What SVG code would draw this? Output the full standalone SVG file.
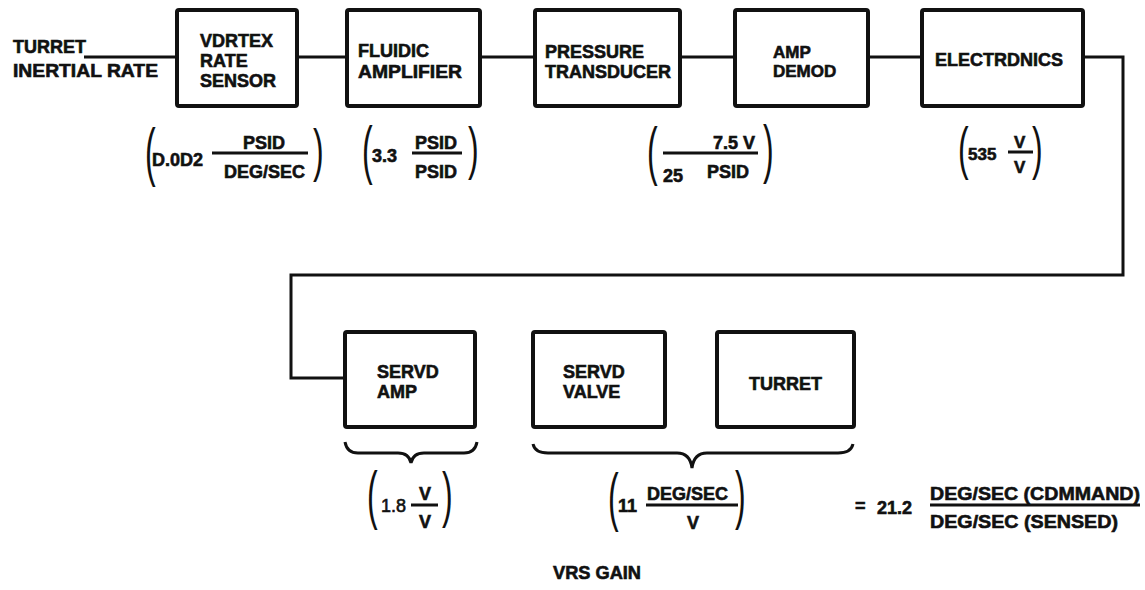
<svg xmlns="http://www.w3.org/2000/svg" width="1145" height="590" viewBox="0 0 1145 590">
<style>
.box{fill:none;stroke:#111;stroke-width:4}
.ln{fill:none;stroke:#111;stroke-width:3}
.t{font-family:"Liberation Sans",Arial,sans-serif;font-weight:bold;font-size:18px;fill:#111;stroke:#111;stroke-width:0.6}
.s{font-size:17px}
.par{font-family:"Liberation Sans",Arial,sans-serif;font-size:32px;fill:#111}
</style>
<rect width="1145" height="590" fill="#fff"/>
<g id="connectors">
<path class="ln" d="M84,57 H177"/>
<path class="ln" d="M297,57 H347"/>
<path class="ln" d="M480,57 H535"/>
<path class="ln" d="M680,57 H735"/>
<path class="ln" d="M868,57 H922"/>
<path class="ln" d="M1083,57 H1123 V275 H291 V378 H345"/>
</g>
<g id="input-label">
<text class="t" x="13" y="53">TURRET</text>
<text class="t" x="13" y="77" textLength="145" lengthAdjust="spacingAndGlyphs">INERTIAL RATE</text>
</g>
<g id="vortex">
<rect class="box" x="177" y="10" width="120" height="96" rx="2"/>
<text class="t" x="200" y="47">VDRTEX</text>
<text class="t" x="200" y="67">RATE</text>
<text class="t" x="200" y="87">SENSOR</text>
</g>
<g id="fluidic">
<rect class="box" x="347" y="10" width="133" height="96" rx="2"/>
<text class="t" x="358" y="57">FLUIDIC</text>
<text class="t" x="358" y="78" textLength="104" lengthAdjust="spacingAndGlyphs">AMPLIFIER</text>
</g>
<g id="pressure">
<rect class="box" x="535" y="10" width="145" height="96" rx="2"/>
<text class="t" x="545" y="58">PRESSURE</text>
<text class="t" x="545" y="78">TRANSDUCER</text>
</g>
<g id="ampdemod">
<rect class="box" x="735" y="10" width="133" height="96" rx="2"/>
<text class="t s" x="773" y="58">AMP</text>
<text class="t s" x="773" y="77">DEMOD</text>
</g>
<g id="electronics">
<rect class="box" x="922" y="10" width="161" height="96" rx="2"/>
<text class="t" x="935" y="66" textLength="128" lengthAdjust="spacingAndGlyphs">ELECTRDNICS</text>
</g>
<g id="servoamp">
<rect class="box" x="345" y="332" width="130" height="95" rx="2"/>
<text class="t" x="377" y="378">SERVD</text>
<text class="t" x="377" y="398">AMP</text>
</g>
<g id="servovalve">
<rect class="box" x="533" y="332" width="132" height="95" rx="2"/>
<text class="t" x="563" y="378">SERVD</text>
<text class="t" x="563" y="398">VALVE</text>
</g>
<g id="turret">
<rect class="box" x="717" y="332" width="137" height="95" rx="2"/>
<text class="t" x="749" y="390">TURRET</text>
</g>
<g id="gain-vortex">
<text class="par" transform="translate(145,174) scale(1,2)">(</text>
<text class="t" x="152" y="166">D.0D2</text>
<path class="ln" d="M212,153 H308"/>
<text class="t" x="243" y="149">PSID</text>
<text class="t" x="224" y="178">DEG/SEC</text>
<text class="par" transform="translate(313,170) scale(1,1.8)">)</text>
</g>
<g id="gain-fluidic">
<text class="par" transform="translate(362,172) scale(1,2)">(</text>
<text class="t" x="372" y="162">3.3</text>
<path class="ln" d="M412,153 H462"/>
<text class="t" x="415" y="149">PSID</text>
<text class="t" x="415" y="178">PSID</text>
<text class="par" transform="translate(468,168) scale(1,1.8)">)</text>
</g>
<g id="gain-pressure">
<text class="par" transform="translate(647,173) scale(1,2)">(</text>
<path class="ln" d="M663,153 H758"/>
<text class="t" x="713" y="149">7.5 V</text>
<text class="t" x="663" y="182">25</text>
<text class="t" x="707" y="178">PSID</text>
<text class="par" transform="translate(763,171) scale(1,2)">)</text>
</g>
<g id="gain-electronics">
<text class="par" transform="translate(958,168) scale(1,1.8)">(</text>
<text class="t s" x="968" y="160">535</text>
<path class="ln" d="M1008,152 H1033"/>
<text class="t s" x="1014" y="148">V</text>
<text class="t s" x="1014" y="173">V</text>
<text class="par" transform="translate(1032,168) scale(1,1.8)">)</text>
</g>
<g id="braces">
<path class="ln" d="M345,442 Q347,453 358,453 L398,453 Q409,453 411,463 Q413,453 424,453 L464,453 Q475,453 477,442"/>
<path class="ln" d="M533,444 Q535,453 548,453 L677,453 Q690,453 692,468 Q694,453 707,453 L838,453 Q851,453 853,444"/>
</g>
<g id="gain-servoamp">
<text class="par" transform="translate(367,517) scale(1,2)">(</text>
<text class="t" x="381" y="512" style="font-weight:normal">1.8</text>
<path class="ln" d="M411,505 H438"/>
<text class="t" x="419" y="500">V</text>
<text class="t" x="419" y="528">V</text>
<text class="par" transform="translate(442,515) scale(1,1.9)">)</text>
</g>
<g id="gain-valve">
<text class="par" transform="translate(608,519) scale(1,2)">(</text>
<text class="t" x="618" y="512">11</text>
<path class="ln" d="M646,505 H738"/>
<text class="t" x="647" y="500">DEG/SEC</text>
<text class="t" x="687" y="529">V</text>
<text class="par" transform="translate(735,517) scale(1,2)">)</text>
</g>
<g id="total-gain">
<text class="t" x="855" y="512">=</text>
<text class="t" x="877" y="514">21.2</text>
<path class="ln" d="M930,505 H1140"/>
<text class="t" x="930" y="500" textLength="210" lengthAdjust="spacingAndGlyphs">DEG/SEC (CDMMAND)</text>
<text class="t" x="930" y="528" textLength="188" lengthAdjust="spacingAndGlyphs">DEG/SEC (SENSED)</text>
</g>
<g id="title">
<text class="t" x="553" y="579" textLength="88" lengthAdjust="spacingAndGlyphs">VRS GAIN</text>
</g>
</svg>
